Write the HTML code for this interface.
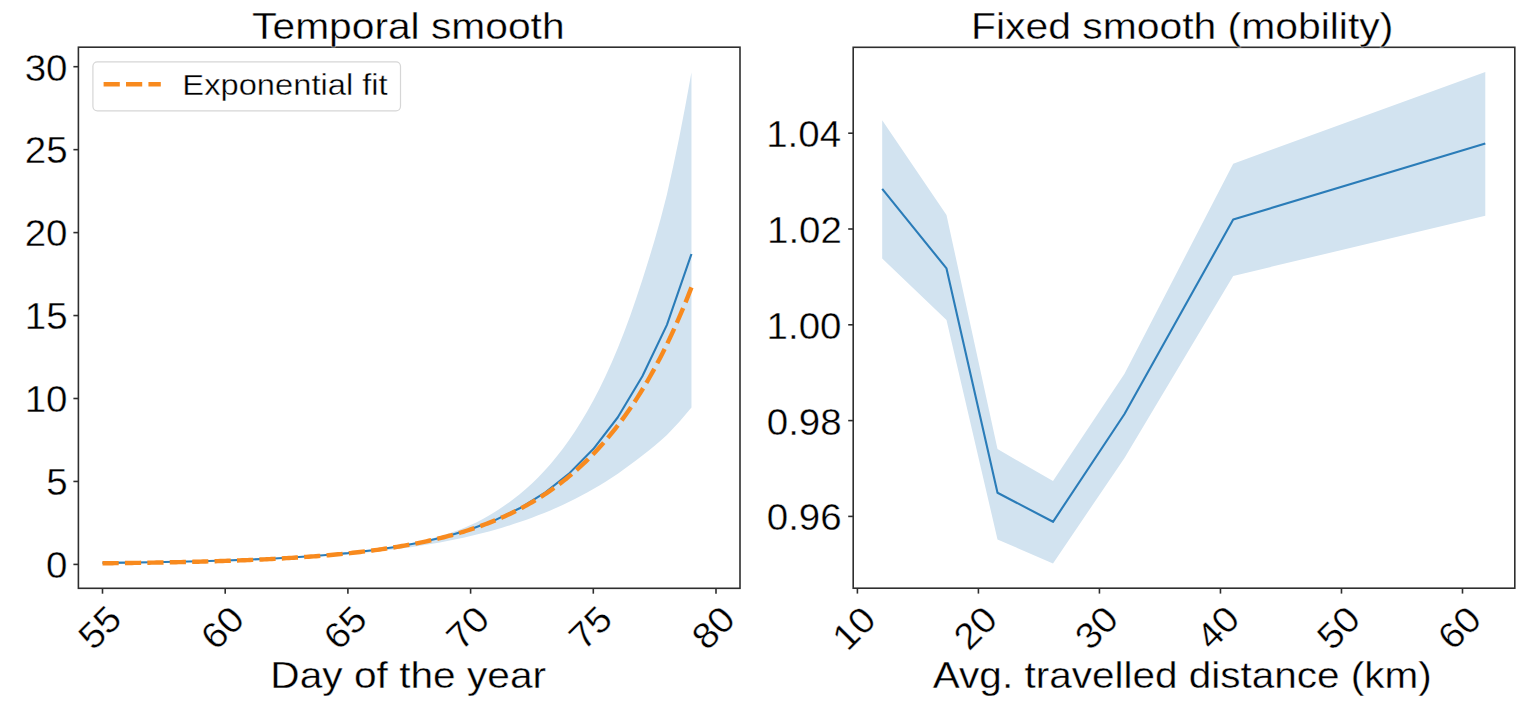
<!DOCTYPE html>
<html><head><meta charset="utf-8"><style>
html,body{margin:0;padding:0;background:#fff;width:1536px;height:706px;overflow:hidden}
svg{display:block}
text{font-family:"Liberation Sans",sans-serif;fill:#000;stroke:#fff;stroke-width:0.35px}
</style></head><body>
<svg width="1536" height="706" viewBox="0 0 1536 706">
<rect width="1536" height="706" fill="#fff"/>
<polygon points="102.50,562.91 108.64,562.86 114.77,562.78 120.91,562.69 127.04,562.60 133.18,562.52 139.31,562.43 145.44,562.33 151.58,562.23 157.72,562.12 163.85,562.01 169.99,561.89 176.12,561.76 182.25,561.63 188.39,561.49 194.52,561.34 200.66,561.19 206.80,561.02 212.93,560.85 219.06,560.66 225.20,560.47 231.34,560.26 237.47,560.04 243.60,559.81 249.74,559.57 255.88,559.31 262.01,559.04 268.14,558.75 274.28,558.44 280.41,558.12 286.55,557.77 292.69,557.41 298.82,557.02 304.95,556.61 311.09,556.18 317.23,555.72 323.36,555.23 329.50,554.71 335.63,554.15 341.76,553.57 347.90,552.94 354.03,552.27 360.17,551.56 366.31,550.81 372.44,550.00 378.57,549.14 384.71,548.22 390.84,547.24 396.98,546.19 403.12,545.06 409.25,543.85 415.38,542.55 421.52,541.16 427.65,539.66 433.79,538.04 439.93,536.29 446.06,534.40 452.19,532.35 458.33,530.13 464.46,527.71 470.60,525.08 476.74,522.17 482.87,518.97 489.00,515.50 495.14,511.79 501.27,507.85 507.41,503.62 513.54,499.08 519.68,494.22 525.82,489.01 531.95,483.43 538.09,477.44 544.22,471.03 550.36,464.17 556.49,456.81 562.62,448.94 568.76,440.52 574.89,431.50 581.03,421.85 587.16,411.52 593.30,400.48 599.43,388.66 605.57,376.03 611.70,362.52 617.84,348.09 623.98,332.60 630.11,316.01 636.25,298.36 642.38,279.73 648.51,260.35 654.65,240.10 660.78,218.37 666.92,194.44 673.05,167.07 679.19,137.67 685.32,106.09 691.46,72.17 691.46,407.46 685.32,414.85 679.19,421.89 673.05,428.60 666.92,435.00 660.78,440.60 654.65,445.74 648.51,450.63 642.38,455.45 636.25,460.22 630.11,464.87 623.98,469.35 617.84,473.63 611.70,477.72 605.57,481.65 599.43,485.42 593.30,489.03 587.16,492.48 581.03,495.80 574.89,498.97 568.76,502.01 562.62,504.93 556.49,507.71 550.36,510.38 544.22,512.93 538.09,515.37 531.95,517.71 525.82,519.94 519.68,522.08 513.54,524.12 507.41,526.07 501.27,527.93 495.14,529.71 489.00,531.42 482.87,533.04 476.74,534.59 470.60,536.07 464.46,537.47 458.33,538.80 452.19,540.07 446.06,541.28 439.93,542.43 433.79,543.52 427.65,544.56 421.52,545.55 415.38,546.49 409.25,547.39 403.12,548.24 396.98,549.04 390.84,549.81 384.71,550.54 378.57,551.23 372.44,551.89 366.31,552.51 360.17,553.11 354.03,553.67 347.90,554.20 341.76,554.71 335.63,555.19 329.50,555.65 323.36,556.08 317.23,556.49 311.09,556.88 304.95,557.25 298.82,557.60 292.69,557.94 286.55,558.25 280.41,558.55 274.28,558.84 268.14,559.11 262.01,559.37 255.88,559.61 249.74,559.84 243.60,560.06 237.47,560.27 231.34,560.47 225.20,560.66 219.06,560.83 212.93,561.00 206.80,561.16 200.66,561.32 194.52,561.46 188.39,561.60 182.25,561.73 176.12,561.85 169.99,561.97 163.85,562.08 157.72,562.19 151.58,562.29 145.44,562.39 139.31,562.48 133.18,562.56 127.04,562.65 120.91,562.73 114.77,562.82 108.64,562.89 102.50,562.94" fill="#d2e3f0"/>
<polyline points="102.50,562.91 127.04,562.60 151.58,562.23 176.12,561.76 200.66,561.19 225.20,560.47 249.74,559.58 274.28,558.46 298.82,557.06 323.36,555.30 347.90,553.09 372.44,550.29 396.98,546.76 421.52,542.27 446.06,536.58 470.60,529.33 495.14,520.09 519.68,508.29 544.22,493.20 568.76,473.87 593.30,449.07 617.84,417.24 642.38,376.31 666.92,324.84 691.46,254.00" fill="none" stroke="#2a7cb8" stroke-width="2.1" stroke-linejoin="round" stroke-linecap="butt"/>
<polyline points="102.50,563.29 104.95,563.26 107.41,563.24 109.86,563.21 112.32,563.18 114.77,563.15 117.22,563.13 119.68,563.10 122.13,563.07 124.59,563.03 127.04,563.00 129.49,562.97 131.95,562.94 134.40,562.90 136.86,562.87 139.31,562.83 141.76,562.80 144.22,562.76 146.67,562.72 149.13,562.68 151.58,562.64 154.03,562.60 156.49,562.56 158.94,562.52 161.40,562.47 163.85,562.43 166.30,562.38 168.76,562.33 171.21,562.29 173.67,562.24 176.12,562.19 178.57,562.14 181.03,562.08 183.48,562.03 185.94,561.97 188.39,561.92 190.84,561.86 193.30,561.80 195.75,561.74 198.21,561.68 200.66,561.62 203.11,561.55 205.57,561.48 208.02,561.42 210.48,561.35 212.93,561.28 215.38,561.20 217.84,561.13 220.29,561.05 222.75,560.97 225.20,560.89 227.65,560.81 230.11,560.73 232.56,560.64 235.02,560.56 237.47,560.47 239.92,560.38 242.38,560.28 244.83,560.19 247.29,560.09 249.74,559.99 252.19,559.89 254.65,559.78 257.10,559.67 259.56,559.56 262.01,559.45 264.46,559.34 266.92,559.22 269.37,559.10 271.83,558.97 274.28,558.85 276.73,558.72 279.19,558.59 281.64,558.45 284.10,558.31 286.55,558.17 289.00,558.03 291.46,557.88 293.91,557.73 296.37,557.57 298.82,557.41 301.27,557.25 303.73,557.08 306.18,556.91 308.64,556.74 311.09,556.56 313.54,556.38 316.00,556.19 318.45,556.00 320.91,555.80 323.36,555.60 325.81,555.40 328.27,555.19 330.72,554.98 333.18,554.76 335.63,554.53 338.08,554.30 340.54,554.07 342.99,553.83 345.45,553.58 347.90,553.33 350.35,553.07 352.81,552.81 355.26,552.54 357.72,552.26 360.17,551.98 362.62,551.69 365.08,551.40 367.53,551.09 369.99,550.78 372.44,550.47 374.89,550.14 377.35,549.81 379.80,549.47 382.26,549.13 384.71,548.77 387.16,548.41 389.62,548.03 392.07,547.65 394.53,547.26 396.98,546.86 399.43,546.46 401.89,546.04 404.34,545.61 406.80,545.18 409.25,544.73 411.70,544.27 414.16,543.80 416.61,543.32 419.07,542.83 421.52,542.33 423.97,541.82 426.43,541.29 428.88,540.75 431.34,540.20 433.79,539.64 436.24,539.06 438.70,538.47 441.15,537.87 443.61,537.25 446.06,536.62 448.51,535.98 450.97,535.32 453.42,534.64 455.88,533.95 458.33,533.24 460.78,532.51 463.24,531.77 465.69,531.01 468.15,530.23 470.60,529.44 473.05,528.63 475.51,527.79 477.96,526.94 480.42,526.07 482.87,525.18 485.32,524.27 487.78,523.33 490.23,522.38 492.69,521.40 495.14,520.40 497.59,519.38 500.05,518.33 502.50,517.26 504.96,516.16 507.41,515.04 509.86,513.89 512.32,512.71 514.77,511.51 517.23,510.28 519.68,509.02 522.13,507.73 524.59,506.41 527.04,505.06 529.50,503.68 531.95,502.27 534.40,500.83 536.86,499.35 539.31,497.83 541.77,496.28 544.22,494.70 546.67,493.08 549.13,491.42 551.58,489.72 554.04,487.98 556.49,486.20 558.94,484.39 561.40,482.52 563.85,480.62 566.31,478.67 568.76,476.67 571.21,474.63 573.67,472.55 576.12,470.41 578.58,468.22 581.03,465.98 583.48,463.69 585.94,461.35 588.39,458.95 590.85,456.50 593.30,453.99 595.75,451.42 598.21,448.79 600.66,446.10 603.12,443.35 605.57,440.53 608.02,437.65 610.48,434.70 612.93,431.68 615.39,428.60 617.84,425.44 620.29,422.20 622.75,418.90 625.20,415.51 627.66,412.05 630.11,408.50 632.56,404.87 635.02,401.16 637.47,397.36 639.93,393.48 642.38,389.50 644.83,385.43 647.29,381.27 649.74,377.01 652.20,372.65 654.65,368.19 657.10,363.62 659.56,358.95 662.01,354.17 664.47,349.28 666.92,344.27 669.37,339.15 671.83,333.91 674.28,328.55 676.74,323.06 679.19,317.44 681.64,311.70 684.10,305.82 686.55,299.80 689.01,293.65 691.46,287.35" fill="none" stroke="#f88a1e" stroke-width="4.4" stroke-dasharray="16.2,6.22" stroke-linecap="butt"/>
<rect x="78.4" y="47.2" width="661.6" height="541.0999999999999" fill="none" stroke="#2e2e2e" stroke-width="1.6"/>
<line x1="73.4" y1="564.40" x2="78.4" y2="564.40" stroke="#2e2e2e" stroke-width="1.6"/>
<text transform="translate(46.09,578.22) scale(1.0580,1)" font-size="36.40">0</text>
<line x1="73.4" y1="481.45" x2="78.4" y2="481.45" stroke="#2e2e2e" stroke-width="1.6"/>
<text transform="translate(46.21,495.09) scale(1.0580,1)" font-size="36.40">5</text>
<line x1="73.4" y1="398.50" x2="78.4" y2="398.50" stroke="#2e2e2e" stroke-width="1.6"/>
<text transform="translate(24.68,412.32) scale(1.0580,1)" font-size="36.40">10</text>
<line x1="73.4" y1="315.55" x2="78.4" y2="315.55" stroke="#2e2e2e" stroke-width="1.6"/>
<text transform="translate(24.79,329.19) scale(1.0580,1)" font-size="36.40">15</text>
<line x1="73.4" y1="232.60" x2="78.4" y2="232.60" stroke="#2e2e2e" stroke-width="1.6"/>
<text transform="translate(24.68,246.42) scale(1.0580,1)" font-size="36.40">20</text>
<line x1="73.4" y1="149.65" x2="78.4" y2="149.65" stroke="#2e2e2e" stroke-width="1.6"/>
<text transform="translate(24.79,163.47) scale(1.0580,1)" font-size="36.40">25</text>
<line x1="73.4" y1="66.70" x2="78.4" y2="66.70" stroke="#2e2e2e" stroke-width="1.6"/>
<text transform="translate(24.68,80.52) scale(1.0580,1)" font-size="36.40">30</text>
<line x1="102.50" y1="588.3" x2="102.50" y2="593.6999999999999" stroke="#2e2e2e" stroke-width="1.6"/>
<text transform="translate(99.80,627.60) rotate(-45) scale(1.0580,1) translate(-20.20,12.34)" font-size="36.40">55</text>
<line x1="225.20" y1="588.3" x2="225.20" y2="593.6999999999999" stroke="#2e2e2e" stroke-width="1.6"/>
<text transform="translate(222.50,627.60) rotate(-45) scale(1.0580,1) translate(-20.46,12.52)" font-size="36.40">60</text>
<line x1="347.90" y1="588.3" x2="347.90" y2="593.6999999999999" stroke="#2e2e2e" stroke-width="1.6"/>
<text transform="translate(345.20,627.60) rotate(-45) scale(1.0580,1) translate(-20.40,12.52)" font-size="36.40">65</text>
<line x1="470.60" y1="588.3" x2="470.60" y2="593.6999999999999" stroke="#2e2e2e" stroke-width="1.6"/>
<text transform="translate(467.90,627.60) rotate(-45) scale(1.0580,1) translate(-20.46,12.52)" font-size="36.40">70</text>
<line x1="593.30" y1="588.3" x2="593.30" y2="593.6999999999999" stroke="#2e2e2e" stroke-width="1.6"/>
<text transform="translate(590.60,627.60) rotate(-45) scale(1.0580,1) translate(-20.40,12.34)" font-size="36.40">75</text>
<line x1="716.00" y1="588.3" x2="716.00" y2="593.6999999999999" stroke="#2e2e2e" stroke-width="1.6"/>
<text transform="translate(713.30,627.60) rotate(-45) scale(1.0580,1) translate(-20.31,12.52)" font-size="36.40">80</text>
<text transform="translate(252.10,39.40) scale(1.1016,1)" font-size="36.99" fill="#000">Temporal smooth</text>
<text transform="translate(270.36,687.90) scale(1.0996,1)" font-size="36.99" fill="#000">Day of the year</text>
<rect x="92.9" y="61.8" width="307.6" height="49" rx="4.5" ry="4.5" fill="#fff" stroke="#d6d6d6" stroke-width="1.2"/>
<line x1="103.6" y1="84.2" x2="160.8" y2="84.2" stroke="#f88a1e" stroke-width="4.4" stroke-dasharray="16.2,6.22"/>
<text transform="translate(182.32,94.50) scale(1.1362,1)" font-size="28.78" fill="#000">Exponential fit</text>
<polygon points="882.20,120.20 946.50,214.90 997.50,449.10 1053.00,481.00 1124.50,373.70 1233.20,163.70 1485.30,72.10 1485.30,215.70 1233.20,275.90 1124.50,457.90 1053.00,563.40 997.50,539.40 946.50,320.00 882.20,258.50" fill="#d2e3f0"/>
<polyline points="882.20,188.90 946.50,268.40 997.50,492.70 1053.00,521.80 1124.50,414.00 1233.20,219.50 1485.30,143.50" fill="none" stroke="#2a7cb8" stroke-width="2.1" stroke-linejoin="round"/>
<rect x="853.2" y="47.3" width="661.5999999999999" height="540.9000000000001" fill="none" stroke="#2e2e2e" stroke-width="1.6"/>
<line x1="848.2" y1="516.40" x2="853.2" y2="516.40" stroke="#2e2e2e" stroke-width="1.6"/>
<text transform="translate(766.75,530.32) scale(1.0580,1)" font-size="36.40">0.96</text>
<line x1="848.2" y1="420.60" x2="853.2" y2="420.60" stroke="#2e2e2e" stroke-width="1.6"/>
<text transform="translate(766.71,434.52) scale(1.0580,1)" font-size="36.40">0.98</text>
<line x1="848.2" y1="324.80" x2="853.2" y2="324.80" stroke="#2e2e2e" stroke-width="1.6"/>
<text transform="translate(766.56,338.72) scale(1.0580,1)" font-size="36.40">1.00</text>
<line x1="848.2" y1="229.00" x2="853.2" y2="229.00" stroke="#2e2e2e" stroke-width="1.6"/>
<text transform="translate(766.98,242.92) scale(1.0580,1)" font-size="36.40">1.02</text>
<line x1="848.2" y1="133.20" x2="853.2" y2="133.20" stroke="#2e2e2e" stroke-width="1.6"/>
<text transform="translate(766.17,147.12) scale(1.0580,1)" font-size="36.40">1.04</text>
<line x1="857.40" y1="588.2" x2="857.40" y2="593.6" stroke="#2e2e2e" stroke-width="1.6"/>
<text transform="translate(854.40,627.70) rotate(-45) scale(1.0580,1) translate(-20.91,12.52)" font-size="36.40">10</text>
<line x1="978.42" y1="588.2" x2="978.42" y2="593.6" stroke="#2e2e2e" stroke-width="1.6"/>
<text transform="translate(975.42,627.70) rotate(-45) scale(1.0580,1) translate(-20.44,12.52)" font-size="36.40">20</text>
<line x1="1099.44" y1="588.2" x2="1099.44" y2="593.6" stroke="#2e2e2e" stroke-width="1.6"/>
<text transform="translate(1096.44,627.70) rotate(-45) scale(1.0580,1) translate(-20.22,12.52)" font-size="36.40">30</text>
<line x1="1220.46" y1="588.2" x2="1220.46" y2="593.6" stroke="#2e2e2e" stroke-width="1.6"/>
<text transform="translate(1217.46,627.70) rotate(-45) scale(1.0580,1) translate(-19.95,12.52)" font-size="36.40">40</text>
<line x1="1341.48" y1="588.2" x2="1341.48" y2="593.6" stroke="#2e2e2e" stroke-width="1.6"/>
<text transform="translate(1338.48,627.70) rotate(-45) scale(1.0580,1) translate(-20.26,12.52)" font-size="36.40">50</text>
<line x1="1462.50" y1="588.2" x2="1462.50" y2="593.6" stroke="#2e2e2e" stroke-width="1.6"/>
<text transform="translate(1459.50,627.70) rotate(-45) scale(1.0580,1) translate(-20.46,12.52)" font-size="36.40">60</text>
<text transform="translate(970.95,39.40) scale(1.1053,1)" font-size="36.99" fill="#000">Fixed smooth (mobility)</text>
<text transform="translate(932.82,687.90) scale(1.0954,1)" font-size="36.99" fill="#000">Avg. travelled distance (km)</text>
</svg></body></html>
